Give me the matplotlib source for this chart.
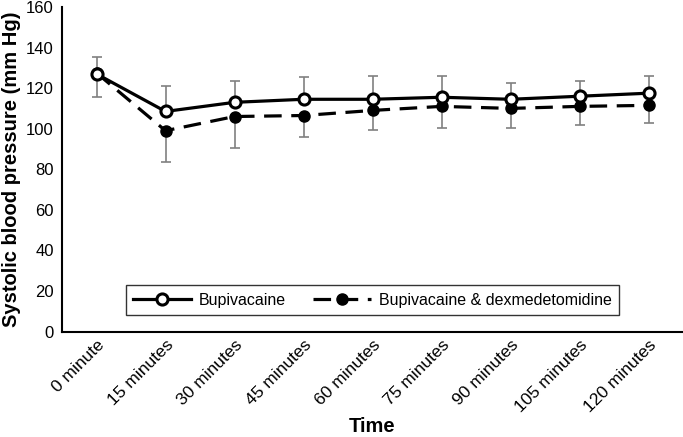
import matplotlib
matplotlib.use("Agg")
import matplotlib.pyplot as plt
import numpy as np

plt.rcParams["font.family"] = ["Liberation Sans", "DejaVu Sans"]

times = ["0 minute", "15 minutes", "30 minutes", "45 minutes", "60 minutes",
         "75 minutes", "90 minutes", "105 minutes", "120 minutes"]

bupi = [127, 108.5, 113, 114.5, 114.5, 115.5, 114.5, 116, 117.5]
bupi_sd = [8.5, 12.5, 10.5, 11, 11.5, 10.5, 8, 7.5, 8.5]

dex = [127.5, 99, 106, 106.5, 109, 111, 110, 111, 111.5]
dex_sd = [12, 15.5, 15.5, 10.5, 9.5, 10.5, 9.5, 9, 8.5]

x = np.arange(len(times))

fig = plt.figure(figsize=(6.83, 4.37), dpi=100)
ax = fig.add_axes([62 / 683, (437 - 331.5) / 437, 1 - 62 / 683, 324.5 / 437])

# error bars: upward for bupivacaine, downward for the combination
ax.errorbar(x, bupi, yerr=[np.zeros(len(x)), bupi_sd], fmt="none",
            ecolor="#808080", elinewidth=1.2, capsize=3.3, capthick=1.2, zorder=1)
ax.errorbar(x, dex, yerr=[dex_sd, np.zeros(len(x))], fmt="none",
            ecolor="#808080", elinewidth=1.2, capsize=3.3, capthick=1.2, zorder=1)

ax.plot(x, dex, color="black", linestyle=(0, (5.5, 3)), linewidth=2.3,
        marker="o", markersize=8, markerfacecolor="black",
        markeredgecolor="black", label="Bupivacaine & dexmedetomidine", zorder=3)
ax.plot(x, bupi, color="black", linewidth=2.3,
        marker="o", markersize=8, markerfacecolor="white",
        markeredgecolor="black", markeredgewidth=2.2, label="Bupivacaine", zorder=4)

ax.set_xlim(-0.5, len(times) - 0.5)
ax.set_ylim(0, 160)
ax.set_yticks(range(0, 161, 20))
ax.set_xticks(x)
ax.set_xticklabels(times, rotation=45, ha="right", rotation_mode="anchor",
                   fontsize=12.5)
ax.tick_params(axis="y", labelsize=12, length=0, pad=6)
ax.tick_params(axis="x", length=0, pad=4)

for side in ["top", "right"]:
    ax.spines[side].set_visible(False)
for side in ["left", "bottom"]:
    ax.spines[side].set_linewidth(1.5)

ax.set_xlabel("Time", fontsize=14.5, fontweight="bold")
ax.xaxis.set_label_coords(0.5, (331.5 - 417) / 324.5)
ax.set_ylabel("Systolic blood pressure (mm Hg)", fontsize=14.5,
              fontweight="bold")
ax.yaxis.set_label_coords((21 - 62) / 621, 0.5)

handles, labels = ax.get_legend_handles_labels()
leg = ax.legend(handles[::-1], labels[::-1], ncol=2, loc="center",
                bbox_to_anchor=(0.5, 0.097), fontsize=11.5, frameon=True,
                fancybox=False, edgecolor="black", handlelength=3.6,
                handletextpad=0.5, columnspacing=1.7, borderpad=0.45,
                borderaxespad=0)
leg.get_frame().set_linewidth(1.0)

fig.savefig("out.png", dpi=100)
